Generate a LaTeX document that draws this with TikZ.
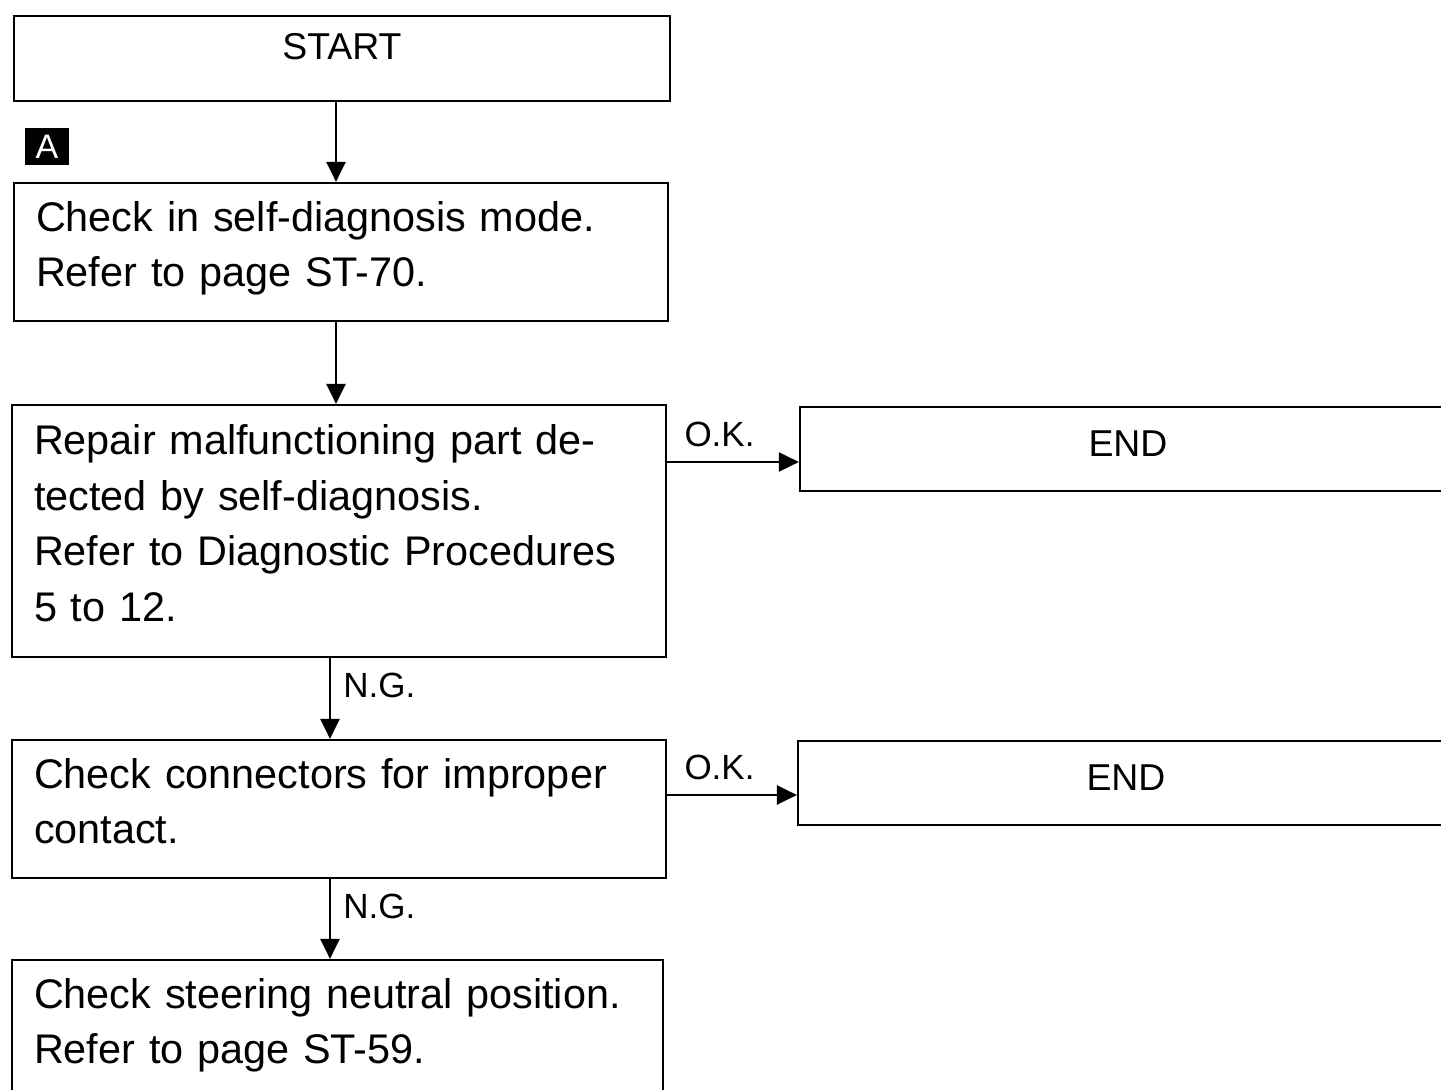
\documentclass[tikz,border=0pt]{standalone}
\usepackage{fontspec}
\setmainfont{Liberation Sans}
\usetikzlibrary{arrows.meta,positioning}

\begin{document}
\begin{tikzpicture}[x=0.5pt,y=-0.5pt,
    box/.style={draw,line width=1.1pt,text width=305pt,inner xsep=11pt,
      align=left,font=\fontsize{20.7}{27.75}\selectfont,text depth=35.75pt},
    title/.style={draw,line width=1.1pt,minimum width=328pt,minimum height=42.5pt,
      font=\fontsize{18.7}{22}\selectfont},
    link/.style={line width=1.2pt,-{Triangle[length=10pt,width=9.5pt]}},
    lbl/.style={inner sep=0pt,font=\fontsize{17.5}{20}\selectfont},
    tag/.style={fill=black,text=white,minimum width=22pt,minimum height=18.5pt,
      inner sep=0pt,font=\fontsize{17}{18}\selectfont}
  ]
    \clip (0,0) rectangle (1441,1090);
    \useasboundingbox (0,0) rectangle (1441,1090);
    \fill[white] (0,0) rectangle (1441,1090);

    \node[title,text depth=12pt] (start) at (342,58.5) {START};
    \node[tag] (a) at (47,146.5) {A};
    \node[box,minimum height=69pt] (chk) at (341,252)
      {Check in self-diagnosis mode.\\ Refer to page ST-70.};
    \node[box,minimum height=126pt,text depth=91.25pt] (rep) at (339,531)
      {Repair malfunctioning part de-\\ tected by self-diagnosis.\\
       Refer to Diagnostic Procedures\\ 5 to 12.};
    \node[box,minimum height=69pt] (con) at (339,809)
      {Check connectors for improper\\ contact.};
    \node[box,minimum height=69pt,text width=303.5pt] (neu) at (337.5,1029)
      {Check steering neutral position.\\ Refer to page ST-59.};
    \node[title,minimum height=42pt,text depth=5.6pt] (end1) at (1128,449) {END};
    \node[title,minimum height=42pt,text depth=5.6pt] (end2) at (1126,783) {END};

    \draw[link] ([xshift=-3pt]start.south) -- ([xshift=-2.5pt]chk.north);
    \draw[link] ([xshift=-2.5pt]chk.south) -- ([xshift=-1.5pt]rep.north);
    \draw[link] ([xshift=-4.5pt]rep.south) coordinate (ng1) -- ([xshift=-4.5pt]con.north);
    \draw[link] ([xshift=-4.5pt]con.south) coordinate (ng2) -- ([xshift=-3.75pt]neu.north);
    \coordinate (ok1) at ([yshift=-6.5pt]end1.west);
    \coordinate (ok2) at ([yshift=-6pt]end2.west);
    \draw[link] (rep.east |- ok1) coordinate (o1) -- (ok1);
    \draw[link] (con.east |- ok2) coordinate (o2) -- (ok2);

    \node[lbl,above right=7.5pt and 8.5pt of o1] {O.K.};
    \node[lbl,above right=7.5pt and 8.5pt of o2] {O.K.};
    \node[lbl,below right=7.5pt and 6.5pt of ng1] {N.G.};
    \node[lbl,below right=7.5pt and 6.5pt of ng2] {N.G.};
  \end{tikzpicture}
\end{document}
